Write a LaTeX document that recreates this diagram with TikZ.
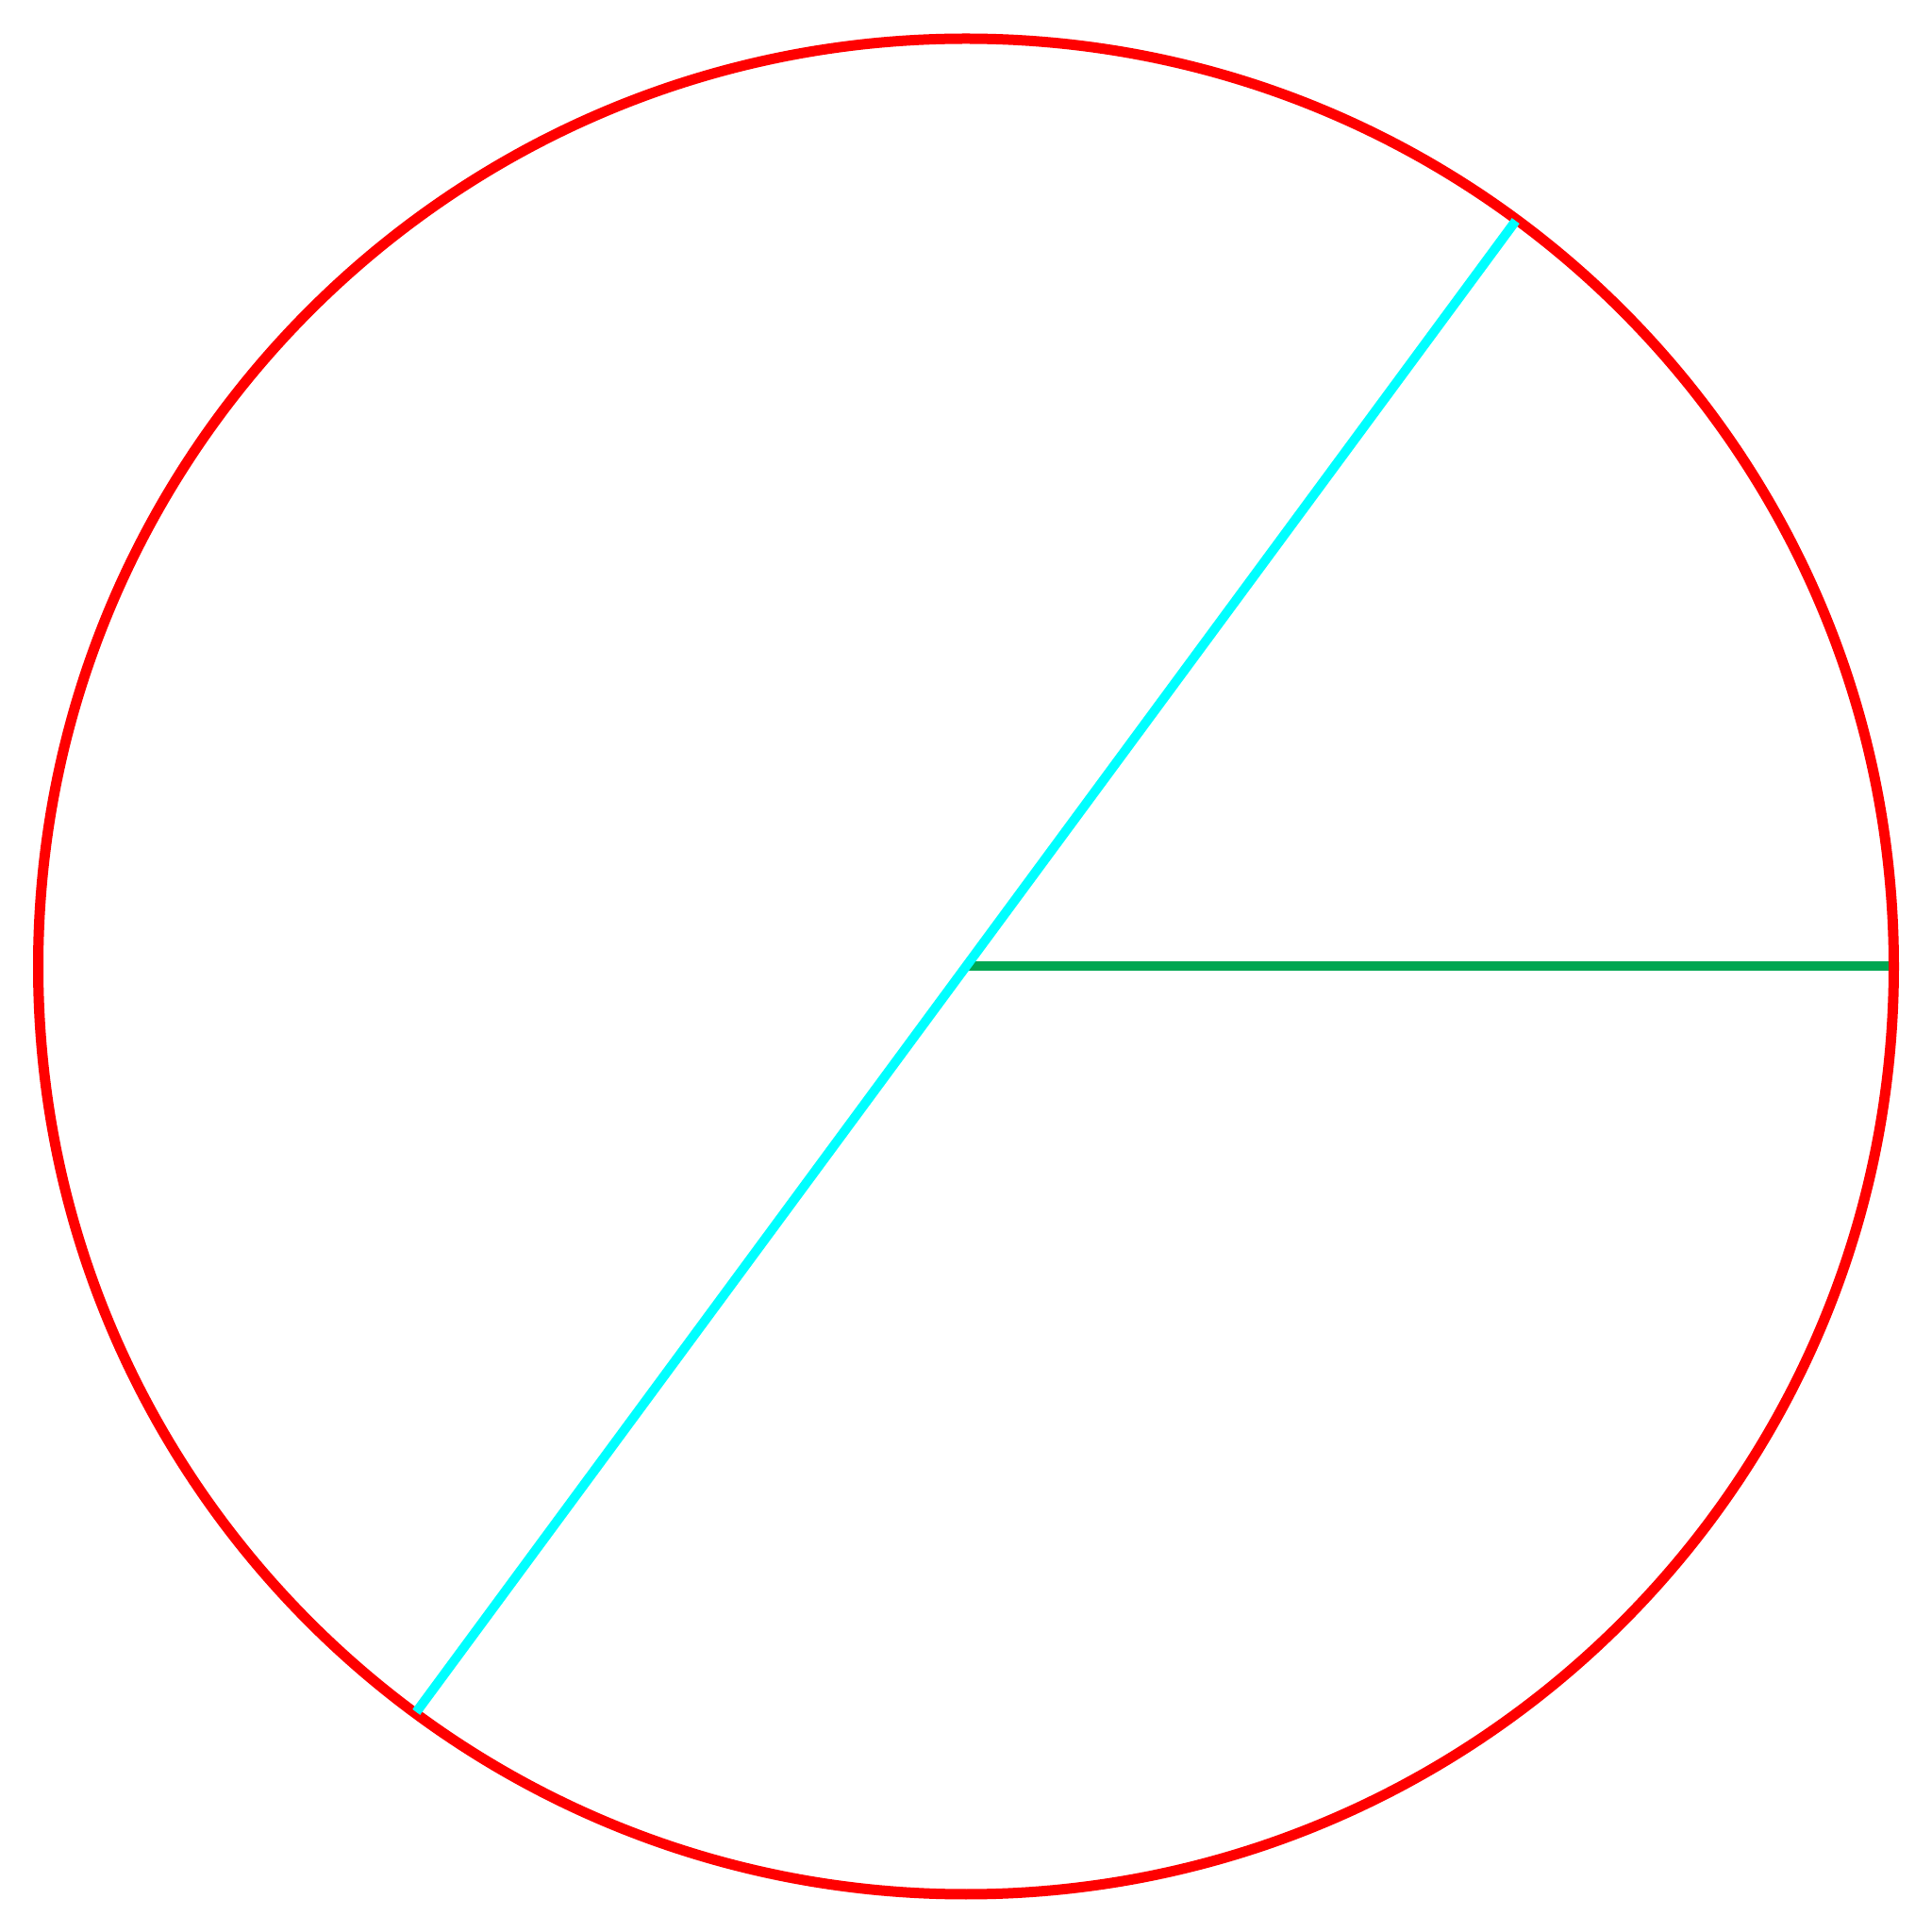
\documentclass[tikz,border=0pt]{standalone}
\usetikzlibrary{calc}
\definecolor{rimred}{RGB}{255,0,0}
\definecolor{diamcyan}{RGB}{0,255,255}
\definecolor{radgreen}{RGB}{0,166,81}
\tikzset{
  rim/.style={draw=rimred, line width=0.11cm},
  radiusline/.style={draw=radgreen, line width=0.10cm},
  diameterline/.style={draw=diamcyan, line width=0.10cm},
}
\begin{document}
\begin{tikzpicture}
\useasboundingbox (0,0) rectangle (20.48,20.48);
\coordinate (O) at (10.24,10.235);
\coordinate (E) at ($(O)+(0:9.82)$);
\coordinate (A) at ($(O)+(53.6:9.82)$);
\coordinate (B) at ($(O)+(233.6:9.82)$);
\draw[radiusline] (O) -- (E);
\draw[rim] (O) circle (9.835);
\draw[diameterline] (A) -- (B);
\end{tikzpicture}
\end{document}
